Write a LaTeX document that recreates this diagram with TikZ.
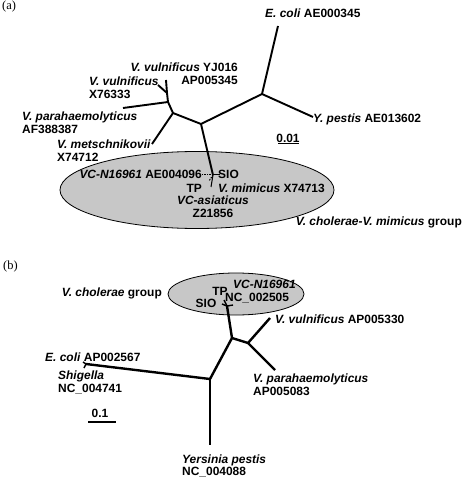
\documentclass[tikz,border=0pt]{standalone}
\usepackage{fontspec}
\setmainfont{Liberation Serif}
\setsansfont{Liberation Sans}
\usetikzlibrary{shapes.geometric}
\begin{document}
\begin{tikzpicture}[
    x=1bp,y=-1bp,
    branch/.style={line width=1.9bp},
    thick branch/.style={line width=2.4bp},
    short/.style={line width=1bp,dash pattern=on 1.5bp off 1bp},
    lbl/.style={font=\sffamily\bfseries\fontsize{12}{12.8}\selectfont,
      inner sep=0pt,align=left},
    panel/.style={font=\fontsize{12.5}{14}\selectfont,inner sep=0pt},
    group/.style={draw,ellipse,fill=black!22,line width=0.8bp,inner sep=0pt},
  ]
  \useasboundingbox (0,0) rectangle (464,480);

  % (a)
  \node[panel,anchor=west] (pa) at (2,7) {(a)};
  \node[group,minimum width=274bp,minimum height=77bp] (grpa) at (197,190) {};

  \coordinate (ectip) at (278,26);
  \coordinate (entero) at (262,94);
  \coordinate (yptip) at (313,117);
  \coordinate (root) at (201,124);
  \coordinate (vib) at (173,113);
  \coordinate (vmetip) at (152,144);
  \coordinate (vpnode) at (168,102);
  \coordinate (vptip) at (123,108);
  \coordinate (vvnode) at (167,93);
  \coordinate (vvytip) at (166,80);
  \coordinate (vvxtip) at (158,85);
  \coordinate (vc) at (213,175);
  \coordinate (vcntip) at (202,175);
  \coordinate (siotip) at (220,175);
  \coordinate (tptip) at (209,181);
  \coordinate (vcatip) at (211,187);

  \draw[branch]
    (ectip) edge (entero)
    (entero) edge (yptip)
    (entero) edge (root)
    (root) edge (vib)
    (root) edge (vc)
    (vib) edge (vmetip)
    (vib) edge (vpnode)
    (vpnode) edge (vptip)
    (vpnode) edge (vvnode)
    (vvnode) edge (vvytip)
    (vvnode) edge (vvxtip);
  \draw[line width=1bp]
    (vc) edge (siotip)
    (vc) edge (vcatip);
  \draw[short]
    (vc) edge (vcntip)
    (vc) edge (tptip);

  \node[lbl,anchor=west] (ec) at (265,13) {\textit{E. coli} AE000345};
  \node[lbl,anchor=west] (yp) at (313,119) {\textit{Y. pestis} AE013602};
  \node[lbl,anchor=east,align=right] (vvy) at (238,73.5) {\textit{V. vulnificus} YJ016\\AP005345};
  \node[lbl,anchor=west] (vvx) at (89,88) {\textit{V. vulnificus}\\X76333};
  \node[lbl,anchor=west] (vpa) at (22,122.5) {\textit{V. parahaemolyticus}\\AF388387};
  \node[lbl,anchor=west] (vme) at (57,150.5) {\textit{V. metschnikovii}\\X74712};
  \node[lbl,anchor=east] (vcn) at (202,174) {\textit{VC-N16961} AE004096};
  \node[lbl,anchor=west] (sio) at (218,174) {SIO};
  \node[lbl,anchor=east] (tp) at (202,188) {TP};
  \node[lbl,anchor=west] (vmi) at (218,188) {\textit{V. mimicus} X74713};
  \node[lbl,align=center] (vca) at (213,207) {\textit{VC-asiaticus}\\Z21856};
  \node[lbl,anchor=east] (grpalbl) at (462,222) {\textit{V. cholerae-V. mimicus} group};
  \node[lbl] (scalea) at (288,138.5) {0.01};
  \coordinate (sa1) at (278,143.5);
  \coordinate (sa2) at (299,143.5);
  \draw[line width=1bp] (sa1) -- (sa2);

  % (b)
  \node[panel,anchor=west] (pb) at (3,267) {(b)};
  \node[group,minimum width=136bp,minimum height=42bp] (grpb) at (236,294) {};

  \coordinate (vcb) at (227,306);
  \coordinate (tpbtip) at (224,300);
  \coordinate (siobtip) at (222,304);
  \coordinate (vcnbtip) at (233,305);
  \coordinate (vibb) at (232,338);
  \coordinate (vvb) at (248,343);
  \coordinate (vvbtip) at (270,318);
  \coordinate (vpbtip) at (275,370);
  \coordinate (rootb) at (210,379);
  \coordinate (ecb) at (86,364);
  \coordinate (ecbtip) at (83,362);
  \coordinate (shbtip) at (84,368);
  \coordinate (ypbtip) at (210,445);

  \draw[thick branch]
    (vibb) edge (vcb)
    (vibb) edge (vvb)
    (vvb) edge (vvbtip)
    (vvb) edge (vpbtip)
    (vibb) edge (rootb)
    (rootb) edge (ecb)
    (rootb) edge (ypbtip);
  \draw[line width=1.4bp]
    (vcb) edge (tpbtip)
    (vcb) edge (siobtip)
    (vcb) edge (vcnbtip)
    (ecb) edge (ecbtip)
    (ecb) edge (shbtip);

  \node[lbl,anchor=east] (grpblbl) at (162,293) {\textit{V. cholerae} group};
  \node[lbl,anchor=west] (vcnb) at (233,284.5) {\textit{VC-N16961}};
  \node[lbl,anchor=west] (ncb) at (225,298.5) {NC\_002505};
  \node[lbl] (tpb) at (220,291) {TP};
  \node[lbl] (siob) at (206,303) {SIO};
  \node[lbl,anchor=west] (vvbl) at (275,319) {\textit{V. vulnificus} AP005330};
  \node[lbl,anchor=west] (vpbl) at (253,385) {\textit{V. parahaemolyticus}\\AP005083};
  \node[lbl,anchor=west] (ecbl) at (45,357) {\textit{E. coli} AP002567};
  \node[lbl,anchor=west] (shbl) at (58,382.5) {\textit{Shigella}\\NC\_004741};
  \node[lbl] (scaleb) at (100,413) {0.1};
  \coordinate (sb1) at (88,422);
  \coordinate (sb2) at (116,422);
  \draw[thick branch] (sb1) -- (sb2);
  \node[lbl,anchor=west] (ypbl) at (182,466) {\textit{Yersinia pestis}\\NC\_004088};
\end{tikzpicture}
\end{document}
